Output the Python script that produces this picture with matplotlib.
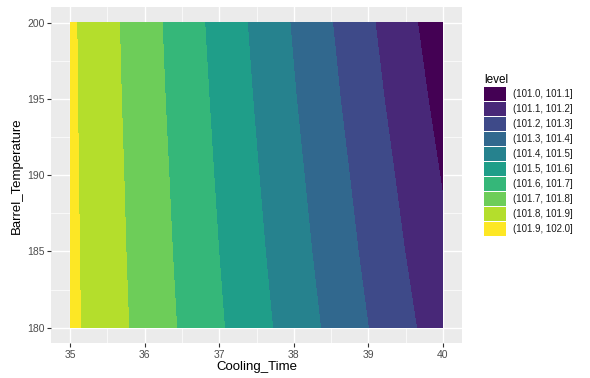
import numpy as np
import matplotlib.pyplot as plt
from matplotlib.patches import Patch

# -----------------------------
# Data
# -----------------------------
cooling_time = [35, 36, 37, 38, 39, 40]
barrel_temp = [180, 185, 190, 195, 200]

# predicted response, one row per barrel temperature
z_180 = [101.922, 101.767, 101.611, 101.456, 101.300, 101.145]
z_185 = [101.920, 101.760, 101.599, 101.439, 101.278, 101.118]
z_190 = [101.919, 101.754, 101.588, 101.423, 101.258, 101.093]
z_195 = [101.917, 101.747, 101.577, 101.406, 101.236, 101.066]
z_200 = [101.916, 101.741, 101.566, 101.391, 101.216, 101.040]

levels = [101.0, 101.1, 101.2, 101.3, 101.4, 101.5, 101.6, 101.7, 101.8, 101.9, 102.0]
colors = ["#440154", "#482878", "#3E4A89", "#31688E", "#26828E",
          "#1F9E89", "#35B779", "#6DCD59", "#B4DE2C", "#FDE725"]

xticks = [35, 36, 37, 38, 39, 40]
yticks = [180, 185, 190, 195, 200]

Z = np.array([z_180, z_185, z_190, z_195, z_200])
X, Y = np.meshgrid(cooling_time, barrel_temp)

# -----------------------------
# Plot
# -----------------------------
plt.rcParams["font.family"] = ["Liberation Sans", "DejaVu Sans"]

W, H = 590, 378
fig = plt.figure(figsize=(W / 100, H / 100), dpi=100)
left, right, top, bottom = 51.4, 461.6, 7.4, 343
ax = fig.add_axes([left / W, 1 - bottom / H, (right - left) / W, (bottom - top) / H])

ax.set_facecolor("#EBEBEB")
for s in ax.spines.values():
    s.set_visible(False)

ax.set_xlim(34.75, 40.25)
ax.set_ylim(179, 201)
ax.set_xticks(xticks)
ax.set_yticks(yticks)
ax.set_xticks([35.5, 36.5, 37.5, 38.5, 39.5], minor=True)
ax.set_yticks([182.5, 187.5, 192.5, 197.5], minor=True)
ax.grid(which="major", color="white", linewidth=1.0)
ax.grid(which="minor", color="white", linewidth=0.5)
ax.set_axisbelow(True)
ax.tick_params(which="major", length=3, width=0.8, color="#333333",
               labelsize=7.5, labelcolor="#4D4D4D", pad=2)
ax.tick_params(which="minor", length=0)

ax.contourf(X, Y, Z, levels=levels, colors=colors, zorder=2)

ax.set_xlabel("Cooling_Time", fontsize=9.5, labelpad=1)
ax.set_ylabel("Barrel_Temperature", fontsize=9.5, labelpad=3)

labels = [f"({levels[i]:.1f}, {levels[i + 1]:.1f}]" for i in range(len(colors))]
handles = [Patch(facecolor=c, edgecolor="none") for c in colors]
leg = fig.legend(handles, labels, title="level", loc="upper left",
                 bbox_to_anchor=(484 / W, 1 - 74 / H), frameon=False,
                 fontsize=7, title_fontsize=8.5, handlelength=2.3,
                 handleheight=1.8, labelspacing=0.13, handletextpad=0.7,
                 borderaxespad=0, borderpad=0)
leg._legend_box.align = "left"
for t in leg.get_texts():
    t.set_color("#1A1A1A")

fig.savefig("out.png", dpi=100)
